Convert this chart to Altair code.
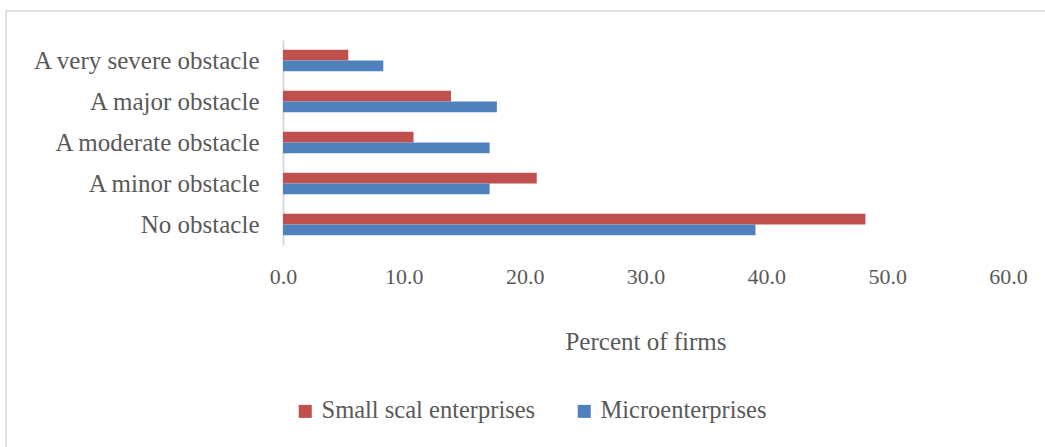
import altair as alt
import pandas as pd

categories = ["A very severe obstacle", "A major obstacle", "A moderate obstacle",
              "A minor obstacle", "No obstacle"]
series = ["Small scal enterprises", "Microenterprises"]
small_vals = [5.4, 13.9, 10.8, 21.0, 48.2]
micro_vals = [8.3, 17.7, 17.1, 17.1, 39.1]
x_ticks = [0, 10, 20, 30, 40, 50, 60]
colors = ["#C0504D", "#4F81BD"]

rows = []
for c, s, m in zip(categories, small_vals, micro_vals):
    rows.append({"cat": c, "series": series[0], "val": s})
    rows.append({"cat": c, "series": series[1], "val": m})
df = pd.DataFrame(rows)

FONT = "Liberation Serif"
W, H = 725, 205
L, T = 283, 40

bars = alt.Chart(df).mark_bar(size=10.7).encode(
    y=alt.Y("cat:N", sort=categories,
            scale=alt.Scale(paddingInner=0.48, paddingOuter=0.24),
            axis=alt.Axis(title=None, ticks=False, labelFont=FONT, labelFontSize=25,
                          labelColor="#595959", labelPadding=24, domainColor="#D9D9D9",
                          domainWidth=2, labelLimit=400)),
    yOffset=alt.YOffset("series:N", sort=series),
    x=alt.X("val:Q", scale=alt.Scale(domain=[0, 60], nice=False),
            axis=alt.Axis(values=x_ticks, format=".1f", title="Percent of firms",
                          grid=False, domain=False, ticks=False, labelFlush=False,
                          labelFont=FONT, labelFontSize=22, labelColor="#595959",
                          labelPadding=21, titleFont=FONT, titleFontSize=25,
                          titleColor="#595959", titleFontWeight="normal",
                          titlePadding=42)),
    color=alt.Color("series:N", sort=series,
                    scale=alt.Scale(domain=series, range=colors),
                    legend=alt.Legend(title=None, orient="none", direction="horizontal",
                                      legendX=10, legendY=359,
                                      symbolType="square", symbolSize=170,
                                      symbolStrokeWidth=0,
                                      labelFont=FONT, labelFontSize=24.5,
                                      labelColor="#595959", columnPadding=36,
                                      labelLimit=400)),
)

border_df = pd.DataFrame({"k": [0]})
border = alt.Chart(border_df).mark_rect(fill=None, stroke="#D9D9D9", strokeWidth=1.5).encode(
    x=alt.value(6 - L), x2=alt.value(1045 - L + 10),
    y=alt.value(11 - T), y2=alt.value(447 - T + 10),
)

chart = alt.layer(border, bars).properties(
    width=W, height=H,
    autosize=alt.AutoSizeParams(type="none"),
    padding={"left": L, "top": T, "right": 1045 - L - W, "bottom": 447 - T - H},
).configure(background="white", view=alt.ViewConfig(strokeWidth=0, stroke="transparent"))

chart.save("out.html", embed_options={"renderer": "svg", "actions": False})
